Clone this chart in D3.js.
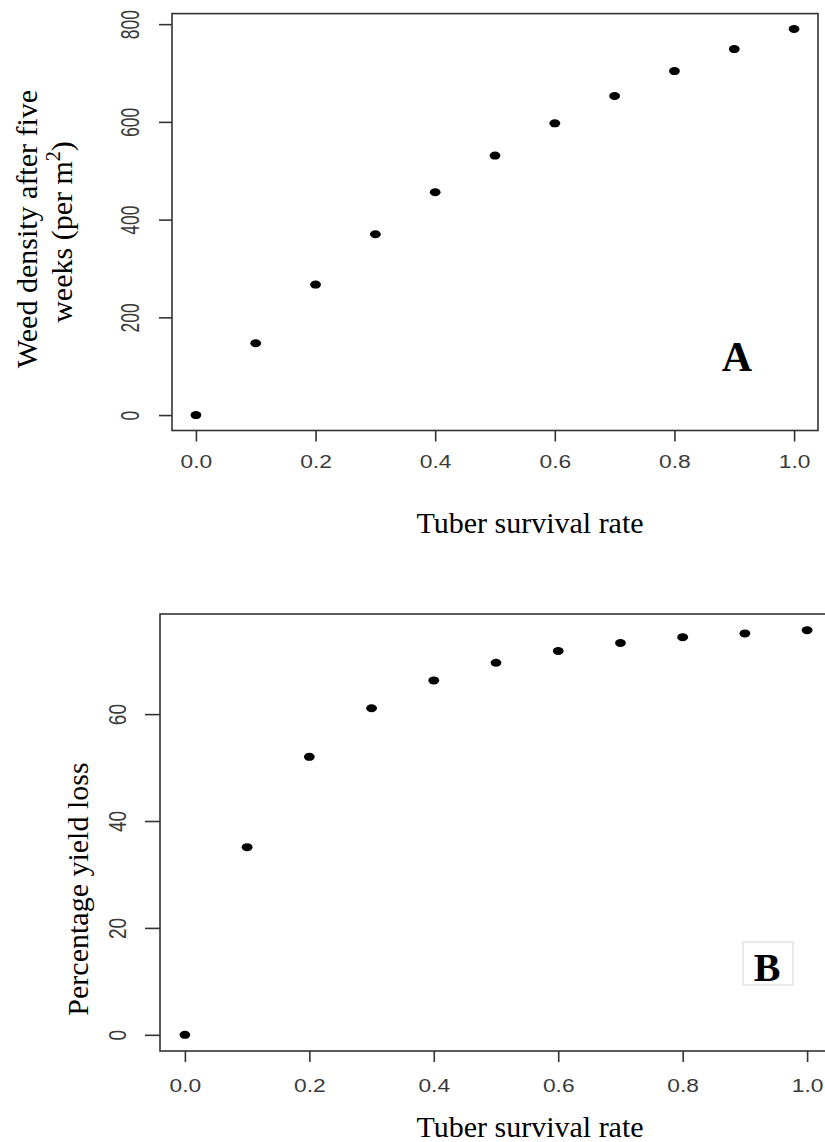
<!DOCTYPE html>
<html>
<head>
<meta charset="utf-8">
<script src="https://cdn.jsdelivr.net/npm/d3@7"></script>
<style>
  html, body { margin: 0; padding: 0; background: #fff; }
  svg { display: block; }
</style>
</head>
<body>
<svg id="chart" width="825" height="1142"></svg>
<script>
// ---- data ----
const survivalRate = [0, 0.1, 0.2, 0.3, 0.4, 0.5, 0.6, 0.7, 0.8, 0.9, 1.0];
const weedDensity  = [0, 147, 267, 370, 456, 531, 597, 653, 704, 749, 790];
const yieldLoss    = [0, 35.1, 52.0, 61.1, 66.3, 69.6, 71.8, 73.3, 74.4, 75.1, 75.7];
const xTickValues  = [0, 0.2, 0.4, 0.6, 0.8, 1.0];
const yTicksA      = [0, 200, 400, 600, 800];
const yTicksB      = [0, 20, 40, 60];
const xTitle       = "Tuber survival rate";
const yTitleA1     = "Weed density after five";
const yTitleA2     = "weeks (per m";
const yTitleB      = "Percentage yield loss";
const panelLabels  = ["A", "B"];

const svg = d3.select("#chart");
const SERIF = "'Liberation Serif', 'Times New Roman', serif";
const SANS  = "'Liberation Sans', Arial, sans-serif";

// R-style 4% padded domain
function rDomain(vals) {
  const [lo, hi] = d3.extent(vals);
  const pad = (hi - lo) * 0.04;
  return [lo - pad, hi + pad];
}

function panel(cfg) {
  const g = svg.append("g");
  const x = d3.scaleLinear().domain(rDomain(survivalRate)).range([cfg.left, cfg.right]);
  const y = d3.scaleLinear().domain(rDomain(cfg.values)).range([cfg.bottom, cfg.top]);

  // optional faint artifact box (drawn first so label sits on top)
  if (cfg.artifact) {
    g.append("rect")
      .attr("x", cfg.artifact[0]).attr("y", cfg.artifact[1])
      .attr("width", cfg.artifact[2]).attr("height", cfg.artifact[3])
      .attr("fill", "none").attr("stroke", "#d6d6d6").attr("stroke-width", 1);
  }

  // box
  g.append("rect")
    .attr("x", cfg.left).attr("y", cfg.top)
    .attr("width", cfg.right - cfg.left).attr("height", cfg.bottom - cfg.top)
    .attr("fill", "none").attr("stroke", "#333").attr("stroke-width", 1.6);

  // x axis
  const xa = g.append("g").attr("transform", `translate(0,${cfg.bottom})`)
    .call(d3.axisBottom(x).tickValues(xTickValues).tickSize(cfg.xTick).tickFormat(d3.format(".1f")));
  xa.select(".domain").remove();
  xa.selectAll(".tick line").attr("stroke", "#333").attr("stroke-width", 1.6);
  xa.selectAll(".tick text")
    .attr("y", cfg.xLabelBase).attr("dy", null)
    .attr("transform", "scale(1.2,1)")
    .attr("fill", "#3a3a3a")
    .style("font-family", SANS).style("font-size", "19px");

  // y axis
  const ya = g.append("g").attr("transform", `translate(${cfg.left},0)`)
    .call(d3.axisLeft(y).tickValues(cfg.yTicks).tickSize(cfg.yTick).tickFormat(d3.format("d")));
  ya.select(".domain").remove();
  ya.selectAll(".tick line").attr("stroke", "#333").attr("stroke-width", 1.6);
  ya.selectAll(".tick text")
    .attr("x", 0).attr("y", 0).attr("dy", null)
    .attr("text-anchor", "middle")
    .attr("transform", `translate(${-cfg.yLabelOff},0) scale(${cfg.yStretch},1) rotate(-90)`)
    .attr("fill", "#3a3a3a")
    .style("font-family", SANS).style("font-size", cfg.yFont + "px");

  // points
  g.selectAll("ellipse.pt").data(survivalRate.map((s, i) => ({ s, v: cfg.values[i] })))
    .enter().append("ellipse").attr("class", "pt")
    .attr("cx", d => x(d.s)).attr("cy", d => y(d.v))
    .attr("rx", 5.4).attr("ry", 4).attr("fill", "#000");

  // x title
  g.append("text")
    .attr("x", 530).attr("y", cfg.xTitleBase)
    .attr("text-anchor", "middle")
    .style("font-family", SERIF).style("font-size", "30px").attr("fill", "#000")
    .text(xTitle);

  // panel label
  g.append("text")
    .attr("x", cfg.labelX).attr("y", cfg.labelBase)
    .attr("text-anchor", "middle")
    .style("font-family", SERIF).style("font-size", cfg.labelSize + "px")
    .style("font-weight", "bold").attr("fill", "#000")
    .text(cfg.label);

  return { g, x, y };
}

// Panel A
const A = panel({
  values: weedDensity, yTicks: yTicksA,
  left: 172, right: 818, top: 13.6, bottom: 430.5,
  xTick: 11, yTick: 13, xLabelBase: 38,
  yLabelOff: 33, yStretch: 1.5, yFont: 17.5,
  xTitleBase: 533,
  label: panelLabels[0], labelX: 737, labelBase: 371, labelSize: 42
});

// Panel A y title (two lines, second with superscript)
A.g.append("text")
  .attr("transform", "translate(37,229) rotate(-90)")
  .attr("text-anchor", "middle")
  .style("font-family", SERIF).style("font-size", "30px").attr("fill", "#000")
  .text(yTitleA1);
const t2 = A.g.append("text")
  .attr("transform", "translate(72,232) rotate(-90)")
  .attr("text-anchor", "middle")
  .style("font-family", SERIF).style("font-size", "30px").attr("fill", "#000");
t2.append("tspan").text(yTitleA2);
t2.append("tspan").attr("dy", -12).style("font-size", "20px").text("2");
t2.append("tspan").attr("dy", 12).text(")");

// Panel B
const B = panel({
  values: yieldLoss, yTicks: yTicksB,
  left: 160, right: 832, top: 614, bottom: 1051,
  xTick: 11, yTick: 15, xLabelBase: 41,
  yLabelOff: 34, yStretch: 1.25, yFont: 19,
  xTitleBase: 1137,
  label: panelLabels[1], labelX: 767, labelBase: 981, labelSize: 40,
  artifact: [743, 942, 50, 43]
});

B.g.append("text")
  .attr("transform", "translate(88,889) rotate(-90)")
  .attr("text-anchor", "middle")
  .style("font-family", SERIF).style("font-size", "30px").attr("fill", "#000")
  .text(yTitleB);
</script>
</body>
</html>
